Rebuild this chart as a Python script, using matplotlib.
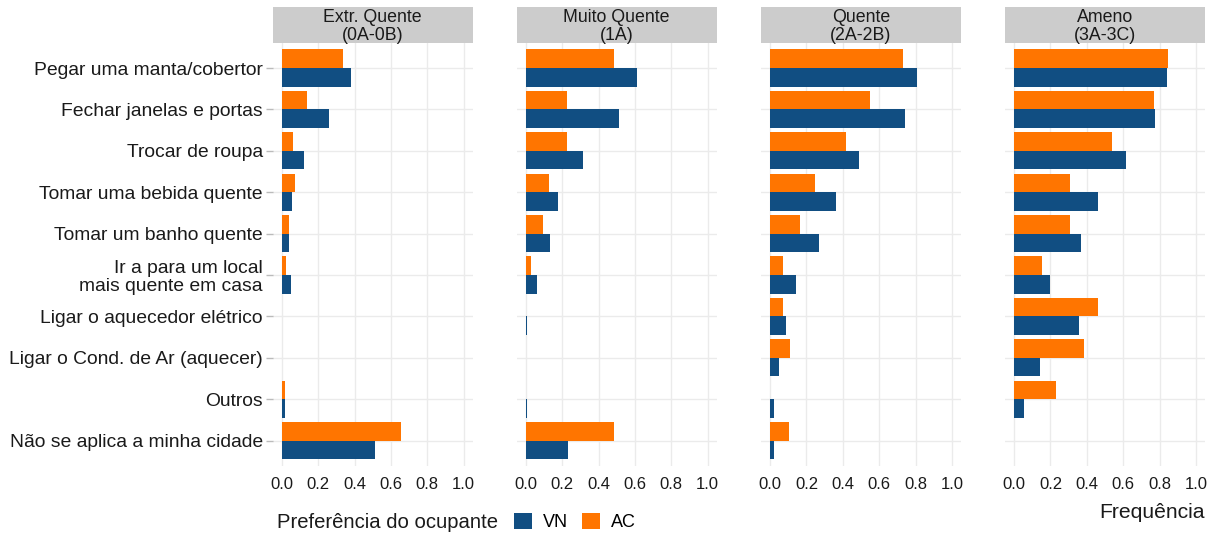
import matplotlib
matplotlib.use("Agg")
import matplotlib.pyplot as plt
from matplotlib.patches import Patch
import numpy as np

plt.rcParams['font.family'] = ['Liberation Sans', 'DejaVu Sans']

categories = [
    "Pegar uma manta/cobertor",
    "Fechar janelas e portas",
    "Trocar de roupa",
    "Tomar uma bebida quente",
    "Tomar um banho quente",
    "Ir a para um local\nmais quente em casa",
    "Ligar o aquecedor elétrico",
    "Ligar o Cond. de Ar (aquecer)",
    "Outros",
    "Não se aplica a minha cidade",
]

panels = ["Extr. Quente\n(0A-0B)", "Muito Quente\n(1A)", "Quente\n(2A-2B)", "Ameno\n(3A-3C)"]

vn_extr   = [0.382, 0.257, 0.123, 0.057, 0.040, 0.053, 0.0, 0.0, 0.018, 0.514]
ac_extr   = [0.334, 0.138, 0.064, 0.073, 0.038, 0.022, 0.0, 0.0, 0.020, 0.657]
vn_muito  = [0.609, 0.514, 0.317, 0.176, 0.134, 0.062, 0.006, 0.002, 0.009, 0.233]
ac_muito  = [0.484, 0.226, 0.226, 0.128, 0.097, 0.031, 0.0, 0.0, 0.0, 0.484]
vn_quente = [0.809, 0.740, 0.488, 0.360, 0.268, 0.141, 0.085, 0.050, 0.020, 0.020]
ac_quente = [0.729, 0.550, 0.417, 0.248, 0.165, 0.072, 0.072, 0.112, 0.0, 0.103]
vn_ameno  = [0.842, 0.776, 0.616, 0.459, 0.367, 0.198, 0.358, 0.143, 0.055, 0.0]
ac_ameno  = [0.848, 0.771, 0.539, 0.307, 0.307, 0.152, 0.462, 0.384, 0.229, 0.0]

vn_all = [vn_extr, vn_muito, vn_quente, vn_ameno]
ac_all = [ac_extr, ac_muito, ac_quente, ac_ameno]

xticks = [0.0, 0.2, 0.4, 0.6, 0.8, 1.0]
xticklabels = ["0.0", "0.2", "0.4", "0.6", "0.8", "1.0"]

VN_COLOR = "#114E82"
AC_COLOR = "#FF7500"
GRID = "#EBEBEB"
TXT = "#1A1A1A"

W, H = 1222, 534
fig = plt.figure(figsize=(W / 100, H / 100), dpi=100)

panel_lefts = [272.7, 516.7, 761.0, 1005.0]
panel_w = 200.0
panel_top = 43.2
panel_bot = 465.5
strip_top = 7.0

y = np.arange(len(categories))
bh = 0.45

for k, left in enumerate(panel_lefts):
    ax = fig.add_axes([left / W, 1 - panel_bot / H, panel_w / W, (panel_bot - panel_top) / H])
    ax.barh(y - bh / 2, ac_all[k], height=bh, color=AC_COLOR, zorder=3)
    ax.barh(y + bh / 2, vn_all[k], height=bh, color=VN_COLOR, zorder=3)
    ax.set_xlim(-0.05, 1.05)
    ax.set_ylim(len(categories) - 0.4, -0.6)
    ax.set_xticks(xticks)
    ax.set_xticklabels(xticklabels, fontsize=12, color=TXT)
    ax.set_yticks(y)
    for s in ax.spines.values():
        s.set_visible(False)
    ax.grid(True, color=GRID, linewidth=1.0, zorder=0)
    ax.set_axisbelow(True)
    ax.tick_params(axis='x', length=0, pad=8)
    if k == 0:
        ax.set_yticklabels(categories, fontsize=13.9, color=TXT, linespacing=1.05)
        ax.tick_params(axis='y', length=5, color="#BBBBBB", width=1.0, pad=2)
    else:
        ax.set_yticklabels([])
        ax.tick_params(axis='y', length=0)
    # strip
    sax = fig.add_axes([left / W, 1 - panel_top / H, panel_w / W, (panel_top - strip_top) / H])
    sax.set_facecolor("#CCCCCC")
    sax.set_xticks([])
    sax.set_yticks([])
    for s in sax.spines.values():
        s.set_visible(False)
    sax.text(0.5, 0.47, panels[k], ha="center", va="center", fontsize=12.8,
             color=TXT, linespacing=1.05, transform=sax.transAxes)

fig.text(1205 / W, 1 - 512 / H, "Frequência", ha="right", va="center", fontsize=15.2, color=TXT)

fig.text(277 / W, 1 - 522 / H, "Preferência do ocupante", ha="left", va="center", fontsize=14.6, color=TXT)
handles = [Patch(facecolor=VN_COLOR, label="VN"), Patch(facecolor=AC_COLOR, label="AC")]
fig.legend(handles=handles, loc="center left", bbox_to_anchor=(510 / W, 1 - 522 / H),
           ncol=2, frameon=False, fontsize=13, handlelength=1.0, handleheight=1.0,
           handletextpad=0.6, columnspacing=0.8, borderaxespad=0, borderpad=0.2)

fig.savefig("out.png", dpi=100, facecolor="white")
